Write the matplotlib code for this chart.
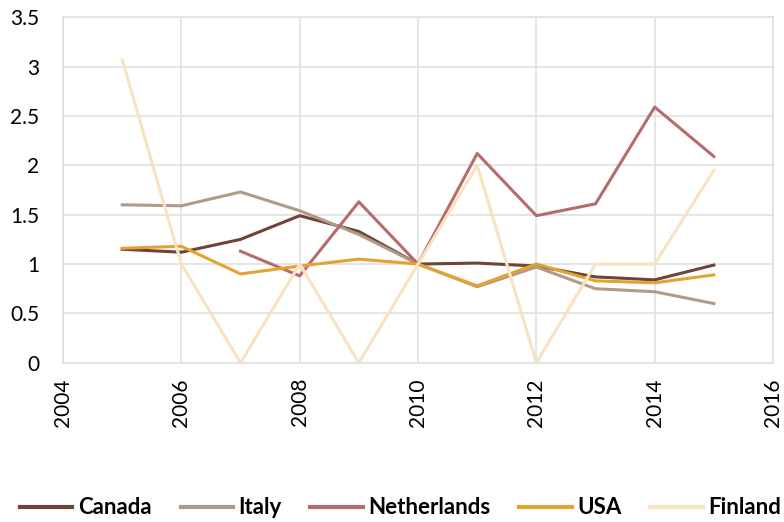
import numpy as np
import matplotlib.pyplot as plt

# Data
years = [2005, 2006, 2007, 2008, 2009, 2010, 2011, 2012, 2013, 2014, 2015]
canada = [1.15, 1.12, 1.25, 1.49, 1.33, 1.00, 1.01, 0.98, 0.87, 0.84, 0.99]
italy = [1.60, 1.59, 1.73, 1.54, 1.30, 1.00, 0.77, 0.97, 0.75, 0.72, 0.60]
netherlands = [np.nan, np.nan, 1.13, 0.88, 1.63, 1.00, 2.12, 1.49, 1.61, 2.59, 2.09]
usa = [1.16, 1.18, 0.90, 0.98, 1.05, 1.00, 0.78, 1.00, 0.83, 0.81, 0.89]
finland = [3.07, 1.00, 0.00, 1.00, 0.00, 1.00, 2.00, 0.00, 1.00, 1.00, 1.95]

series = [
    ("Canada", canada, "#6E4437"),
    ("Italy", italy, "#B09A88"),
    ("Netherlands", netherlands, "#B86B6B"),
    ("USA", usa, "#E3A330"),
    ("Finland", finland, "#F8E2C2"),
]

plt.rcParams['font.family'] = ['Lato', 'DejaVu Sans']

fig = plt.figure(figsize=(7.84, 5.22), dpi=100)
ax = fig.add_axes([0.0804, 0.305, 0.9056, 0.662])

for name, vals, color in series:
    ax.plot(years, vals, color=color, linewidth=2.2, label=name)

ax.set_xlim(2004, 2016)
ax.set_ylim(0, 3.5)
ax.set_xticks(range(2004, 2017, 2))
ax.set_yticks(np.arange(0, 3.51, 0.5))
ax.set_yticklabels(["0", "0.5", "1", "1.5", "2", "2.5", "3", "3.5"])
ax.tick_params(axis='x', labelrotation=90, labelsize=15, length=0, pad=11)
ax.tick_params(axis='y', labelsize=15, length=0, pad=17)

ax.grid(True, color="#E0E0E0", linewidth=1.2)
ax.set_axisbelow(True)
for sp in ax.spines.values():
    sp.set_color("#E0E0E0")
    sp.set_linewidth(1.2)

leg = fig.legend(loc="center", bbox_to_anchor=(0.511, 0.027), ncol=5, frameon=False,
                 prop={'weight': 'bold', 'size': 16}, handlelength=2.35,
                 columnspacing=1.3, handletextpad=0.25, borderpad=0)
for line in leg.get_lines():
    line.set_linewidth(3)

fig.savefig("out.png", dpi=100)
